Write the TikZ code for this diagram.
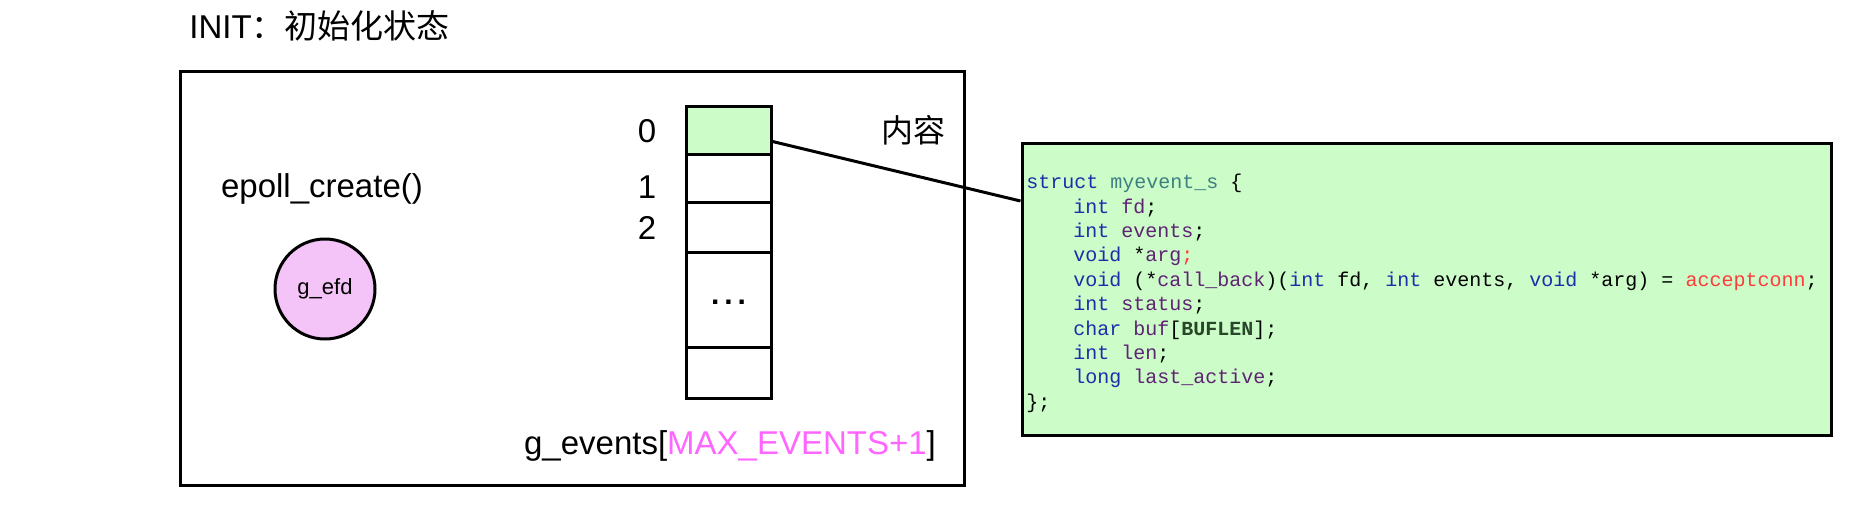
\documentclass[tikz,border=0pt]{standalone}
\usepackage{fontspec}
\setmainfont{Liberation Sans}
\newfontfamily\cjk{Noto Sans CJK SC}
\newfontfamily\codefont{Liberation Mono}
\usetikzlibrary{positioning}

\definecolor{cellgreen}{RGB}{204,252,200}
\definecolor{efdpink}{RGB}{244,196,248}
\definecolor{macpink}{RGB}{255,102,255}
\definecolor{kwblue}{RGB}{30,45,170}
\definecolor{tyteal}{RGB}{60,128,128}
\definecolor{idpurple}{RGB}{95,35,115}
\definecolor{cdred}{RGB}{255,60,60}
\definecolor{mcgreen}{RGB}{40,70,40}

\newcommand{\ckw}[1]{\textcolor{kwblue}{#1}}
\newcommand{\cid}[1]{\textcolor{idpurple}{#1}}
\newcommand{\cred}[1]{\textcolor{cdred}{#1}}

\tikzset{
  lbl/.style={font=\fontsize{16.5}{20}\selectfont, inner sep=0pt},
  cell/.style={draw, line width=1.5pt, minimum width=42.5pt, inner sep=0pt},
  codeline/.style={anchor=west, inner sep=0pt, text height=7pt, text depth=2pt,
    font=\codefont\fontsize{10}{12}\selectfont},
}

\begin{document}
\begin{tikzpicture}[x=0.5pt,y=-0.5pt]
  \useasboundingbox (0,0) rectangle (1852,520);

  \node[lbl, anchor=west] (title) at (189,26) {INIT\cjk{：初始化状态}};

  % epoll instance
  \draw[line width=1.5pt] (180,71) rectangle (964,485);
  \node[lbl] (create) at (322,189) {epoll\_create()};
  \node[draw, circle, line width=1.5pt, fill=efdpink, minimum size=50pt, inner sep=0pt,
    font=\fontsize{11}{13}\selectfont] (efd) at (325,289) {g\_efd};

  % event array
  \node[cell, fill=cellgreen, minimum height=24pt] (cell0) at (728.5,130.5) {};
  \node[cell, minimum height=24pt] (cell1) at (728.5,178.5) {};
  \node[cell, minimum height=25pt] (cell2) at (728.5,227) {};
  \node[cell, minimum height=47.5pt, font=\bfseries\fontsize{15}{18}\selectfont] (cell3) at (728.5,299.5) {\raisebox{-5pt}{.\,.\,.}};
  \node[cell, minimum height=25.5pt] (cell4) at (728.5,372.5) {};

  \node[lbl] (idx0) at (647,131) {0};
  \node[lbl] (idx1) at (647,187) {1};
  \node[lbl] (idx2) at (647,228) {2};
  \node[lbl, font=\cjk\fontsize{16}{20}\selectfont] (content) at (913,130) {内容};
  \node[lbl] (events) at (730,446) {g\_events[\textcolor{macpink}{MAX\_EVENTS+1}]};

  % struct myevent_s
  \node[draw, line width=1.5pt, fill=cellgreen, minimum width=404.5pt, minimum height=146pt,
    inner sep=0pt] (code) at (1426.5,289) {};
  \node[codeline] (ln0) at (1026,183) {\ckw{struct} \textcolor{tyteal}{myevent\_s} \{};
  \node[codeline] (ln1) at (1073,208) {\ckw{int} \cid{fd};};
  \node[codeline] (ln2) at (1073,232) {\ckw{int} \cid{events};};
  \node[codeline] (ln3) at (1073,256) {\ckw{void} *\cid{arg}\cred{;}};
  \node[codeline] (ln4) at (1073,281) {\ckw{void} (*\cid{call\_back})(\ckw{int} fd, \ckw{int} events, \ckw{void} *arg) = \cred{acceptconn};};
  \node[codeline] (ln5) at (1073,305) {\ckw{int} \cid{status};};
  \node[codeline] (ln6) at (1073,330) {\ckw{char} \cid{buf}[\textbf{\textcolor{mcgreen}{BUFLEN}}];};
  \node[codeline] (ln7) at (1073,354) {\ckw{int} \cid{len};};
  \node[codeline] (ln8) at (1073,378) {\ckw{long} \cid{last\_active};};
  \node[codeline] (ln9) at (1026,403) {\};};

  \draw[line width=1.5pt] ([yshift=-5.5pt]cell0.east) -- ([yshift=44pt]code.west);
\end{tikzpicture}
\end{document}
